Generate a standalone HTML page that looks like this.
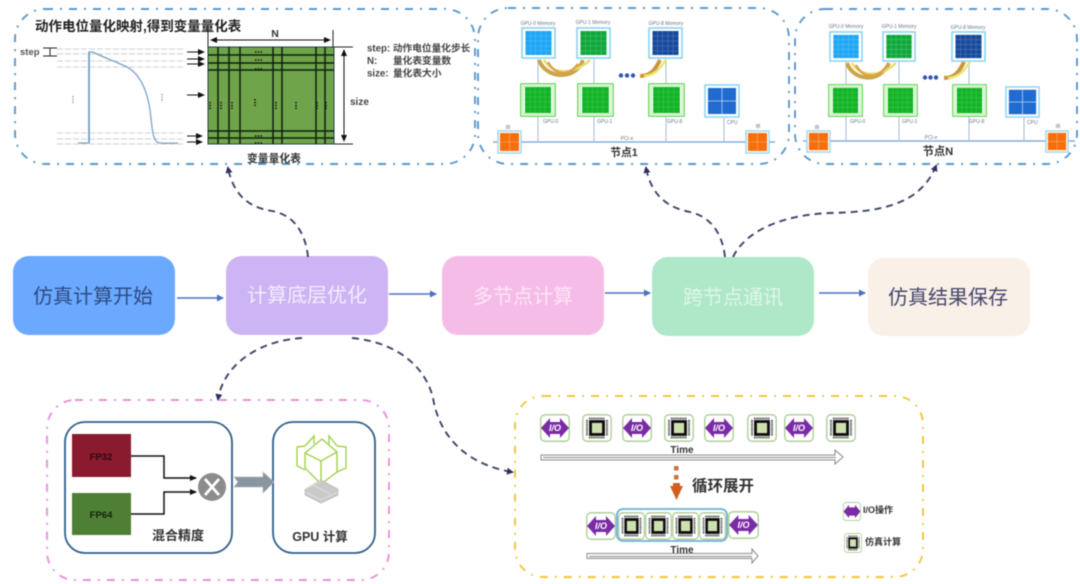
<!DOCTYPE html>
<html lang="zh">
<head>
<meta charset="utf-8">
<style>
html,body{margin:0;padding:0;background:#fff;width:1080px;height:584px;overflow:hidden}
svg{display:block;filter:blur(.6px)}
text{font-family:"Liberation Sans","Noto Sans CJK SC",sans-serif}
.b{font-weight:700}
.sm{font-size:5px;fill:#6b7686}
.io{font-size:9px;font-weight:700;font-style:italic;fill:#fff;text-anchor:middle}
.flow{font-size:20px;text-anchor:middle}
.frame{fill:none;stroke-width:1.9;stroke-dasharray:8 7 2 7}
.dash{fill:none;stroke:#3f4466;stroke-width:1.9;stroke-dasharray:7 5}
</style>
</head>
<body>
<svg width="1080" height="584" viewBox="0 0 1080 584" xmlns="http://www.w3.org/2000/svg">
<defs>
<marker id="ad" markerWidth="8" markerHeight="8" refX="5" refY="3.5" orient="auto" markerUnits="userSpaceOnUse"><path d="M0,0L7,3.5L0,7Z" fill="#2e3160"/></marker>
<marker id="ab" markerWidth="8" markerHeight="8" refX="6" refY="3.5" orient="auto" markerUnits="userSpaceOnUse"><path d="M0,0L7,3.5L0,7Z" fill="#4a72c0"/></marker>
<marker id="ak" markerWidth="8" markerHeight="8" refX="6" refY="3" orient="auto" markerUnits="userSpaceOnUse"><path d="M0,0L7,3L0,6Z" fill="#111"/></marker>
<marker id="ak2" markerWidth="8" markerHeight="8" refX="6" refY="3" orient="auto-start-reverse" markerUnits="userSpaceOnUse"><path d="M0,0L7,3L0,6Z" fill="#111"/></marker>
<symbol id="mem" viewBox="0 0 35 32" preserveAspectRatio="none">
<rect x="1" y="1" width="33" height="30" fill="#fff" stroke="#8bd3ee" stroke-width="1.6"/>
<rect x="4.5" y="4" width="26" height="24" fill="currentColor"/>
<path d="M9.5 4V28M14.5 4V28M20 4V28M25 4V28M4.5 9H30.5M4.5 14H30.5M4.5 19H30.5M4.5 24H30.5" stroke="#fff" stroke-opacity=".25" stroke-width=".6"/>
</symbol>
<symbol id="gpu" viewBox="0 0 36 34" preserveAspectRatio="none">
<rect x=".8" y=".8" width="34.4" height="32.4" fill="#fff" stroke="#74d866" stroke-width="1.4"/>
<rect x="3" y="3" width="30" height="28" fill="none" stroke="#9be28e" stroke-width=".7"/>
<rect x="5" y="4" width="26" height="26" fill="#12b525"/>
<path d="M10 4V30M15 4V30M20 4V30M25 4V30M5 9H31M5 14H31M5 19H31M5 24H31" stroke="#fff" stroke-opacity=".2" stroke-width=".6"/>
</symbol>
<symbol id="cpu" viewBox="0 0 36 34" preserveAspectRatio="none">
<rect x="1" y="1" width="34" height="32" fill="#fff" stroke="#90d6ef" stroke-width="1.6"/>
<rect x="4" y="4" width="28" height="26" fill="#1f6bd0"/>
<path d="M18 4V30M4 17H32" stroke="#bcd8f5" stroke-width=".8"/>
</symbol>
<symbol id="ora" viewBox="0 0 25 24" preserveAspectRatio="none">
<rect x="1" y="1" width="23" height="22" fill="#fff" stroke="#a9d9e6" stroke-width="1.6"/>
<rect x="3" y="3" width="19" height="18" fill="#f56f0d"/>
<path d="M12.5 3V21M3 12H22" stroke="#f8b27a" stroke-width=".6"/>
</symbol>
<symbol id="iob" viewBox="0 0 30 28" preserveAspectRatio="none">
<rect x=".8" y=".8" width="28.4" height="26.4" rx="4" fill="#fff" stroke="#a9cc95" stroke-width="1.3"/>
<path d="M1,14L10,4V8H20V4L29,14L20,24V20H10V24Z" fill="#7a2ba6"/>
</symbol>
<symbol id="chip" viewBox="0 0 30 28" preserveAspectRatio="none">
<rect x=".8" y=".8" width="28.4" height="26.4" rx="4" fill="#fff" stroke="#a9cc95" stroke-width="1.3"/>
<rect x="8.500" y="7.500" width="13" height="13" fill="#cfe0b0" stroke="#0c0c0c" stroke-width="2.800"/>
<path d="M7 4.500H23M7 23.500H23M5 6V22M25 6V22" stroke="#333" stroke-width="2" stroke-dasharray="1 .8"/>
</symbol>
</defs>

<!-- top frames -->
<rect class="frame" x="15" y="9" width="460" height="155" rx="30" stroke="#5b98cc"/>
<rect class="frame" x="478" y="8" width="311" height="156" rx="30" stroke="#5b98cc"/>
<rect class="frame" x="795" y="9" width="282" height="155" rx="30" stroke="#5b98cc"/>

<!-- left panel -->
<text class="b" x="35" y="31" font-size="13.5" fill="#222">动作电位量化映射,得到变量量化表</text>
<text x="20" y="55" font-size="9.500" font-weight="700" fill="#555">step</text>
<path d="M43 48H57M43 56H57M50 48V56" stroke="#222" stroke-width="1" fill="none"/>
<path d="M57 49H185M57 54H185M57 61H185M57 67H185M57 133H185M57 139H185M57 144H185" stroke="#cfcfcf" stroke-width="1" stroke-dasharray="6 2" fill="none"/>
<path d="M78,143H89V52L93,52C100,56 112,60 125,66C140,73 147,90 150,110C152,125 152,138 157,142C160,144 170,143 178,143" fill="none" stroke="#7ea3c4" stroke-width="1.3"/>
<path d="M89,52V143" stroke="#6f9dc0" stroke-width="1.6"/>
<path d="M73 96V104M162 94V102" stroke="#888" stroke-width="1.300" stroke-dasharray="1.300 1.300"/>
<g stroke="#111" stroke-width="1">
<path d="M187 52H204" marker-end="url(#ak)"/><path d="M187 59H204" marker-end="url(#ak)"/><path d="M187 64H204" marker-end="url(#ak)"/><path d="M187 95H204" marker-end="url(#ak)"/><path d="M187 136H202" marker-end="url(#ak)"/><path d="M187 142H202" marker-end="url(#ak)"/>
</g>
<rect x="208" y="47" width="126" height="97" fill="#70a44a" stroke="#2b4050" stroke-width="1"/>
<path d="M218 47V144M229 47V144M240 47V144M273 47V144M282 47V144M316 47V144M325 47V144M208 55H334M208 63H334M208 70H334M208 131H334M208 138H334" stroke="#0d1f10" stroke-width="1.500" fill="none"/>
<path d="M210 102V110M221 102V110M232 102V110M255 99V107M276 102V110M296 102V110M317 102V110M326 102V110" stroke="#111" stroke-width="1.600" stroke-dasharray="1.400 1.400"/>
<path d="M255 52H263M255 60H263M255 69H263M255 136H263M255 143H263" stroke="#111" stroke-width="1.600" stroke-dasharray="1.400 1.400"/>
<path d="M208 30V47M333 30V47" stroke="#222" stroke-width="1"/>
<path d="M211 40H330" stroke="#111" stroke-width="1" marker-start="url(#ak2)" marker-end="url(#ak2)"/>
<text class="b" x="275" y="37" font-size="10.5" text-anchor="middle" fill="#333">N</text>
<path d="M334 47H353M334 144H353" stroke="#222" stroke-width="1"/>
<path d="M344 50V141" stroke="#111" stroke-width="1" marker-start="url(#ak2)" marker-end="url(#ak2)"/>
<text class="b" x="350" y="105" font-size="10" fill="#444">size</text>
<g font-size="9.700" font-weight="700" fill="#444">
<text x="367" y="51.500">step: 动作电位量化步长</text>
<text x="367" y="64">N:</text><text x="393" y="64">量化表变量数</text>
<text x="367" y="76.500">size:</text><text x="393" y="76.500">量化表大小</text>
</g>
<text class="b" x="274" y="162" font-size="10.800" text-anchor="middle" fill="#333">变量量化表</text>

<!-- node 1 -->
<g>
<path d="M493 142H775" stroke="#6f9fd6" stroke-width="1.3"/>
<path d="M538 59V142M594 59V142M666 59V142M724 118V142" stroke="#a7bcd8" stroke-width="1"/>
<path d="M539 60C545 78 575 82 583 60" fill="none" stroke="#c9a64a" stroke-width="4"/>
<path d="M544 60C552 74 572 76 590 60" fill="none" stroke="#e6dd6a" stroke-width="2.500"/>
<path d="M548 62C554 74 568 78 578 64" fill="none" stroke="#dca24a" stroke-width="2.500"/>
<path d="M640 76C652 76 656 68 660 60" fill="none" stroke="#c9963e" stroke-width="4"/>
<path d="M644 76C656 75 660 68 666 60" fill="none" stroke="#ece56a" stroke-width="2.500"/>
<use href="#mem" x="521" y="27" width="35" height="32" color="#1ea6f5"/>
<use href="#mem" x="576" y="27" width="35" height="32" color="#10a83c"/>
<use href="#mem" x="648" y="27" width="35" height="32" color="#174a9c"/>
<use href="#gpu" x="520" y="83" width="36" height="34"/>
<use href="#gpu" x="577" y="83" width="37" height="34"/>
<use href="#gpu" x="648" y="83" width="37" height="34"/>
<use href="#cpu" x="704" y="84" width="36" height="34"/>
<use href="#ora" x="497" y="130" width="25" height="24"/>
<use href="#ora" x="745" y="130" width="25" height="24"/>
<circle cx="621" cy="75.500" r="2.200" fill="#2f55b0"/><circle cx="627" cy="75.500" r="2.200" fill="#2f55b0"/><circle cx="633" cy="75.500" r="2.200" fill="#2f55b0"/>
<text class="sm" x="538" y="25" text-anchor="middle">GPU-0 Memory</text>
<text class="sm" x="593" y="24" text-anchor="middle">GPU-1 Memory</text>
<text class="sm" x="666" y="25" text-anchor="middle">GPU-8 Memory</text>
<text class="sm" x="543" y="123">GPU-0</text><text class="sm" x="597" y="123">GPU-1</text><text class="sm" x="667" y="123">GPU-8</text><text class="sm" x="727" y="124">CPU</text>
<text class="sm" x="508" y="129" text-anchor="middle">IB</text><text class="sm" x="758" y="128" text-anchor="middle">IB</text>
<text class="sm" x="627" y="140" text-anchor="middle">PCI-e</text>
<text class="b" x="624" y="156" font-size="10.800" text-anchor="middle" fill="#333">节点1</text>
</g>

<!-- node N -->
<g>
<path d="M803 141H1075" stroke="#6f9fd6" stroke-width="1.3"/>
<path d="M846 62V141M899 62V141M969 62V141M1024 118V141" stroke="#a7bcd8" stroke-width="1"/>
<path d="M847 63C853 81 880 84 889 63" fill="none" stroke="#c9a64a" stroke-width="4"/>
<path d="M852 63C860 77 880 78 896 63" fill="none" stroke="#e6dd6a" stroke-width="2.500"/>
<path d="M856 65C862 77 876 80 886 67" fill="none" stroke="#dca24a" stroke-width="2.500"/>
<path d="M944 78C956 78 960 70 964 62" fill="none" stroke="#c9963e" stroke-width="4"/>
<path d="M948 78C960 77 964 70 970 62" fill="none" stroke="#ece56a" stroke-width="2.500"/>
<use href="#mem" x="829" y="31" width="34" height="31" color="#1ea6f5"/>
<use href="#mem" x="882" y="31" width="34" height="31" color="#10a83c"/>
<use href="#mem" x="951" y="31" width="35" height="31" color="#174a9c"/>
<use href="#gpu" x="828" y="84" width="35" height="33"/>
<use href="#gpu" x="883" y="84" width="35" height="33"/>
<use href="#gpu" x="952" y="84" width="35" height="33"/>
<use href="#cpu" x="1005" y="86" width="35" height="32"/>
<use href="#ora" x="806" y="130" width="25" height="23"/>
<use href="#ora" x="1045" y="130" width="24" height="23"/>
<circle cx="925" cy="77.500" r="2.200" fill="#2f55b0"/><circle cx="930.500" cy="77.500" r="2.200" fill="#2f55b0"/><circle cx="936" cy="77.500" r="2.200" fill="#2f55b0"/>
<text class="sm" x="846" y="28" text-anchor="middle">GPU-0 Memory</text>
<text class="sm" x="899" y="28" text-anchor="middle">GPU-1 Memory</text>
<text class="sm" x="968" y="29" text-anchor="middle">GPU-8 Memory</text>
<text class="sm" x="850" y="123">GPU-0</text><text class="sm" x="902" y="123">GPU-1</text><text class="sm" x="969" y="123">GPU-8</text><text class="sm" x="1027" y="124">CPU</text>
<text class="sm" x="817" y="129" text-anchor="middle">IB</text><text class="sm" x="1058" y="128" text-anchor="middle">IB</text>
<text class="sm" x="931" y="139" text-anchor="middle">PCI-e</text>
<text class="b" x="938" y="155" font-size="11.200" text-anchor="middle" fill="#333">节点N</text>
</g>

<!-- flow boxes -->
<rect x="13" y="256" width="162" height="79" rx="16" fill="#6aa9ff"/>
<rect x="226" y="256" width="162" height="79" rx="16" fill="#cdb4f4"/>
<rect x="442" y="256" width="162" height="79" rx="16" fill="#f6bce8"/>
<rect x="652" y="257" width="162" height="79" rx="16" fill="#aee8c8"/>
<rect x="868" y="258" width="162" height="78" rx="16" fill="#f9f0e8"/>
<text class="flow" x="93" y="303" fill="#2d4a80">仿真计算开始</text>
<text class="flow" x="307" y="302" fill="#f5ecfb">计算底层优化</text>
<text class="flow" x="523" y="303" fill="#fbe6f6">多节点计算</text>
<text class="flow" x="733" y="304" fill="#dff5e9">跨节点通讯</text>
<text class="flow" x="948" y="304" fill="#46476a">仿真结果保存</text>
<g fill="none" stroke="#4a72c0" stroke-width="1.4">
<path d="M177 298H223" marker-end="url(#ab)"/>
<path d="M389 294H436" marker-end="url(#ab)"/>
<path d="M605 293H650" marker-end="url(#ab)"/>
<path d="M819 293H865" marker-end="url(#ab)"/>
</g>

<!-- dashed connectors -->
<path class="dash" d="M308,257C305,228 290,214 272,211C252,208 234,198 228,168" marker-end="url(#ad)"/>
<path class="dash" d="M725,257C722,230 708,216 690,212C670,208 652,198 646,168" marker-end="url(#ad)"/>
<path class="dash" d="M733,257C745,232 780,215 830,213C880,212 920,205 936,166" marker-end="url(#ad)"/>
<path class="dash" d="M302,338C265,340 225,360 218,399" marker-end="url(#ad)"/>
<path class="dash" d="M352,338C395,342 425,365 433,398C440,440 470,465 512,472" marker-end="url(#ad)"/>

<!-- pink panel -->
<rect class="frame" x="47" y="400" width="342" height="180" rx="28" stroke="#e88fdc"/>
<rect x="65" y="422" width="167" height="131" rx="20" fill="#fff" stroke="#2f5f8a" stroke-width="1.800"/>
<rect x="273" y="422" width="102" height="131" rx="20" fill="#fff" stroke="#2f5f8a" stroke-width="1.800"/>
<rect x="72" y="434" width="59" height="43" fill="#8a1a2e"/>
<rect x="72" y="493" width="59" height="42" fill="#4f7f34"/>
<text class="b" x="101" y="460" font-size="9.500" text-anchor="middle" fill="#2a0a10">FP32</text>
<text class="b" x="101" y="518" font-size="9.500" text-anchor="middle" fill="#10240a">FP64</text>
<path d="M131 456H164V478H196" fill="none" stroke="#111" stroke-width="1.500" marker-end="url(#ak)"/>
<path d="M131 514H164V492H196" fill="none" stroke="#111" stroke-width="1.500" marker-end="url(#ak)"/>
<circle cx="212" cy="487" r="14" fill="#8c8c8c"/>
<path d="M205 479L219 495M219 479L205 495" stroke="#fff" stroke-width="2.800"/>
<path d="M234,477H263V472L274,482L263,493V487H234L238,482Z" fill="#8a95a0" stroke="#aab4bc" stroke-width=".6"/>
<text class="b" x="178" y="540" font-size="13" text-anchor="middle" fill="#333">混合精度</text>
<text class="b" x="320" y="541" font-size="12.500" text-anchor="middle" fill="#333">GPU 计算</text>
<g fill="none" stroke="#a2d050" stroke-width="1.400">
<path d="M322,439L337,452L337,472L321,484L305,468L305,453Z"/>
<path d="M305,453L321,461L337,452M321,461V484"/>
<path d="M305,446L297,447L297,466L305,470M305,446L314,436V444"/>
<path d="M337,446L346,447V468L337,472M337,446L329,436V444"/>
</g>
<path d="M321,480L338,489V495L321,503L305,495V489Z" fill="#c9c9c9" stroke="#b0b0b0" stroke-width=".6"/>
<path d="M305,492L321,500L338,492M313,485L330,494M321,481L305,489" fill="none" stroke="#eee" stroke-width=".6"/>

<!-- yellow panel -->
<rect class="frame" x="515" y="396" width="408" height="181" rx="28" stroke="#f2c53d"/>
<use href="#iob" x="540" y="414" width="30" height="28"/><text class="io" x="555" y="431">I/O</text>
<use href="#chip" x="582" y="414" width="30" height="28"/>
<use href="#iob" x="622" y="414" width="30" height="28"/><text class="io" x="637" y="431">I/O</text>
<use href="#chip" x="664" y="414" width="30" height="28"/>
<use href="#iob" x="704" y="414" width="30" height="28"/><text class="io" x="719" y="431">I/O</text>
<use href="#chip" x="747" y="414" width="30" height="28"/>
<use href="#iob" x="784" y="414" width="30" height="28"/><text class="io" x="799" y="431">I/O</text>
<use href="#chip" x="826" y="414" width="30" height="28"/>
<path d="M541,455H835V450L843,457L835,464V460H541Z" fill="#fff" stroke="#8a8a8a" stroke-width="1"/>
<path d="M543 457.500H836" stroke="#999" stroke-width="1.200"/>
<text class="b" x="682" y="453" font-size="10" text-anchor="middle" fill="#333">Time</text>
<rect x="674" y="466" width="4.500" height="4.500" fill="#c8743a"/>
<rect x="674" y="475" width="4.500" height="4.500" fill="#c8743a"/>
<path d="M670,486H673V483H680V486H683L676.500,500Z" fill="#d35f1c"/>
<text class="b" x="723" y="491" font-size="15.500" text-anchor="middle" fill="#333">循环展开</text>
<rect x="617" y="509" width="110" height="32" rx="6" fill="#fff" stroke="#6db0d8" stroke-width="1.800"/>
<use href="#iob" x="586" y="512" width="30" height="28"/><text class="io" x="601" y="529">I/O</text>
<use href="#chip" x="618" y="512" width="27" height="28"/>
<use href="#chip" x="645" y="512" width="27" height="28"/>
<use href="#chip" x="672" y="512" width="27" height="28"/>
<use href="#chip" x="699" y="512" width="27" height="28"/>
<use href="#iob" x="728" y="511" width="31" height="28"/><text class="io" x="743.500" y="528">I/O</text>
<path d="M587,553.500H752V549L758,556L752,563V558.500H587Z" fill="#fff" stroke="#8a8a8a" stroke-width="1"/>
<path d="M589 556.500H752" stroke="#999" stroke-width="1.200"/>
<text class="b" x="682" y="553" font-size="10" text-anchor="middle" fill="#333">Time</text>
<use href="#iob" x="843" y="502" width="18" height="19"/>
<use href="#chip" x="844" y="533" width="18" height="20"/>
<text class="b" x="863" y="513" font-size="9" fill="#333">I/O操作</text>
<text class="b" x="865" y="545" font-size="9" fill="#333">仿真计算</text>
</svg>
</body>
</html>
